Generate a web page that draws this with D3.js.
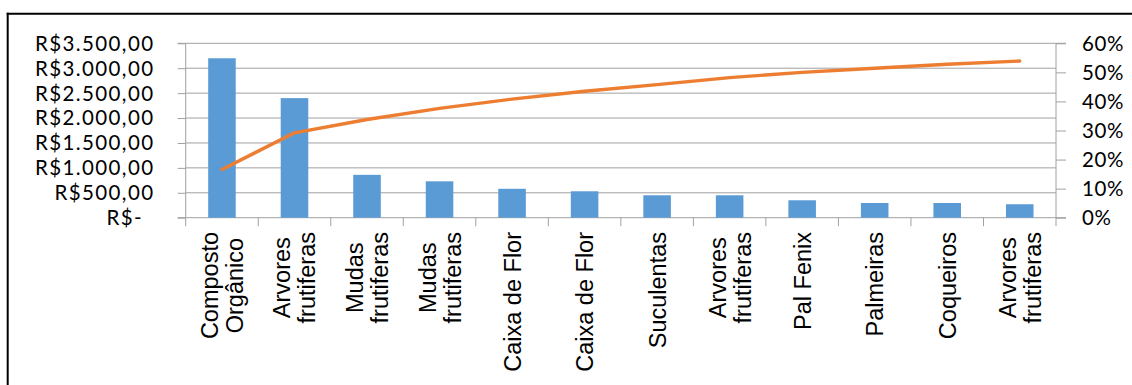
<!DOCTYPE html>
<html>
<head>
<meta charset="utf-8">
<script src="https://cdn.jsdelivr.net/npm/d3@7"></script>
<style>
  html, body { margin: 0; padding: 0; background: #ffffff; }
  svg { display: block; }
</style>
</head>
<body>
<svg id="chart" width="1132" height="385"></svg>
<script>
// ---- Data ----
const categories = [
  "Composto\nOrgânico", "Arvores\nfrutiferas", "Mudas\nfrutiferas", "Mudas\nfrutiferas",
  "Caixa de Flor", "Caixa de Flor", "Suculentas", "Arvores\nfrutiferas",
  "Pal Fenix", "Palmeiras", "Coqueiros", "Arvores\nfrutiferas"
];
const values = [3200, 2400, 860, 730, 580, 530, 450, 450, 350, 295, 295, 270];
const cumulativePct = [0.166, 0.292, 0.338, 0.376, 0.408, 0.435, 0.458, 0.482, 0.500, 0.514, 0.528, 0.539];
const leftTicks = [0, 500, 1000, 1500, 2000, 2500, 3000, 3500];
const leftTickLabels = ["R$-", "R$500,00", "R$1.000,00", "R$1.500,00", "R$2.000,00", "R$2.500,00", "R$3.000,00", "R$3.500,00"];
const rightTicks = [0, 0.1, 0.2, 0.3, 0.4, 0.5, 0.6];
const rightTickLabels = ["0%", "10%", "20%", "30%", "40%", "50%", "60%"];

// ---- Layout ----
const svg = d3.select("#chart");
const plot = { left: 185.7, right: 1056, top: 43.3, bottom: 217.7 };
const gridColor = "#a0a0a0";
const barColor = "#5b9bd5";
const lineColor = "#ed7d31";
const tickFont = "Lato, 'Open Sans', sans-serif";

const x = d3.scaleBand().domain(d3.range(categories.length)).range([plot.left, plot.right]).padding(0);
const yL = d3.scaleLinear().domain([0, 3500]).range([plot.bottom, plot.top]);
const yR = d3.scaleLinear().domain([0, 0.6]).range([plot.bottom, plot.top]);

// frame (left and top edges)
svg.append("line").attr("x1", 7.7).attr("x2", 7.7).attr("y1", 12.7).attr("y2", 385)
  .attr("stroke", "#000").attr("stroke-width", 2);
svg.append("line").attr("x1", 6.7).attr("x2", 1132).attr("y1", 13.7).attr("y2", 13.7)
  .attr("stroke", "#000").attr("stroke-width", 2);

// gridlines
svg.append("g").selectAll("line").data(leftTicks.slice(1)).join("line")
  .attr("x1", plot.left).attr("x2", plot.right)
  .attr("y1", d => yL(d)).attr("y2", d => yL(d))
  .attr("stroke", gridColor).attr("stroke-width", 1);

// left axis
const leftAxis = d3.axisLeft(yL).tickValues(leftTicks).tickSize(8).tickFormat("");
const gL = svg.append("g").attr("transform", `translate(${plot.left},0)`).call(leftAxis);
gL.selectAll("path, line").attr("stroke", gridColor);
gL.select(".domain").attr("d", `M-8,${plot.top}H0V${plot.bottom}H-8`);
svg.append("g").selectAll("text").data(leftTicks).join("text")
  .attr("x", (d, i) => i === 0 ? 143 : 154.5)
  .attr("y", d => yL(d) + 7.4)
  .attr("text-anchor", "end")
  .attr("font-family", tickFont)
  .attr("font-size", 20.5)
  .attr("letter-spacing", 1.4)
  .attr("fill", "#000")
  .text((d, i) => leftTickLabels[i]);

// right axis
const rightAxis = d3.axisRight(yR).tickValues(rightTicks).tickSize(10).tickFormat("");
const gR = svg.append("g").attr("transform", `translate(${plot.right},0)`).call(rightAxis);
gR.selectAll("path, line").attr("stroke", gridColor);
gR.select(".domain").attr("d", `M10,${plot.top}H0V${plot.bottom}H10`);
svg.append("g").selectAll("text").data(rightTicks).join("text")
  .attr("x", 1082)
  .attr("y", d => yR(d) + 7.4)
  .attr("text-anchor", "start")
  .attr("font-family", tickFont)
  .attr("font-size", 20.5)
  .attr("letter-spacing", 0.6)
  .attr("fill", "#000")
  .text((d, i) => rightTickLabels[i]);

// x axis
const bottomAxis = d3.axisBottom(x).tickSize(0).tickFormat("");
const gB = svg.append("g").attr("transform", `translate(0,${plot.bottom})`).call(bottomAxis);
gB.select(".domain").attr("stroke", gridColor).attr("d", `M${plot.left},0H${plot.right}`);
const boundaries = d3.range(categories.length + 1).map(i => plot.left + i * x.step());
svg.append("g").selectAll("line").data(boundaries).join("line")
  .attr("x1", d => d).attr("x2", d => d)
  .attr("y1", plot.bottom).attr("y2", plot.bottom + 8.5)
  .attr("stroke", gridColor).attr("stroke-width", 1);

// bars
const barW = x.bandwidth() * 0.38;
svg.append("g").selectAll("rect").data(values).join("rect")
  .attr("x", (d, i) => x(i) + x.bandwidth() / 2 - barW / 2)
  .attr("width", barW)
  .attr("y", d => yL(d))
  .attr("height", d => plot.bottom - yL(d))
  .attr("fill", barColor);

// cumulative line
const line = d3.line()
  .x((d, i) => x(i) + x.bandwidth() / 2)
  .y(d => yR(d));
svg.append("path").datum(cumulativePct)
  .attr("d", line)
  .attr("fill", "none")
  .attr("stroke", lineColor)
  .attr("stroke-width", 3.4)
  .attr("stroke-linejoin", "round")
  .attr("stroke-linecap", "round");

// category labels (rotated)
const labelTop = 232;
const lineGap = 25;
categories.forEach((cat, i) => {
  const lines = cat.split("\n");
  const g = svg.append("g")
    .attr("transform", `translate(${x(i) + x.bandwidth() / 2},${labelTop}) rotate(-90)`);
  const texts = lines.map((ln, j) => g.append("text")
    .attr("font-family", "'Liberation Sans', Arial, sans-serif")
    .attr("font-size", 23.5)
    .attr("fill", "#000")
    .attr("text-anchor", "middle")
    .attr("y", (j - (lines.length - 1) / 2) * lineGap + 8.5)
    .text(ln));
  const maxLen = d3.max(texts, t => t.node().getComputedTextLength());
  texts.forEach(t => t.attr("x", -maxLen / 2));
});
</script>
</body>
</html>
